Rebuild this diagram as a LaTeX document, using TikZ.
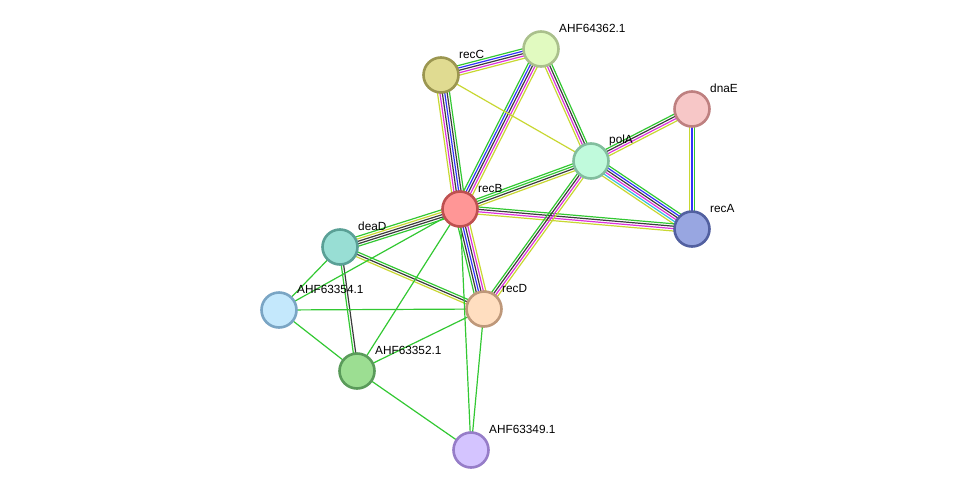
\documentclass[tikz,border=0pt]{standalone}
\usepackage{fontspec}
\setmainfont{Liberation Sans}
\usetikzlibrary{calc,backgrounds}
\definecolor{eg}{RGB}{50,200,50}
\definecolor{ey}{RGB}{200,215,50}
\definecolor{em}{RGB}{220,50,220}
\definecolor{ek}{RGB}{60,60,60}
\definecolor{eb}{RGB}{50,50,250}
\definecolor{ec}{RGB}{50,190,225}
\tikzset{
  prot/.style={circle, minimum size=35pt, inner sep=0pt, line width=2.6pt},
  lab/.style={anchor=west, font=\fontsize{11.8}{13}\selectfont, inner sep=0pt},
  eline/.style={line width=1.2pt}
}
\newcommand\medge[4]{%
  \foreach \cc [count=\i] in {#4} {%
    \pgfmathsetmacro\off{(\i-(#3+1)/2)*2.4}%
    \draw[eline, \cc] ($(#1.center)!\off pt!90:(#2.center)$) -- ($(#2.center)!\off pt!-90:(#1.center)$);
  }%
}
\begin{document}
\begin{tikzpicture}[x=1pt,y=-1pt]
\useasboundingbox (0,0) rectangle (975,496);
% nodes
\node[prot, fill={rgb,255:red,224;green,219;blue,145}, draw={rgb,255:red,155;green,150;blue,80}] (recC) at (441,75) {};
\node[prot, fill={rgb,255:red,225;green,250;blue,192}, draw={rgb,255:red,170;green,192;blue,140}] (A362) at (541,49) {};
\node[prot, fill={rgb,255:red,247;green,199;blue,199}, draw={rgb,255:red,190;green,128;blue,128}] (dnaE) at (692,109) {};
\node[prot, fill={rgb,255:red,192;green,250;blue,220}, draw={rgb,255:red,130;green,190;blue,158}] (polA) at (591,161) {};
\node[prot, fill={rgb,255:red,255;green,150;blue,150}, draw={rgb,255:red,190;green,80;blue,80}] (recB) at (460,209) {};
\node[prot, fill={rgb,255:red,152;green,166;blue,225}, draw={rgb,255:red,82;green,96;blue,160}] (recA) at (692,229) {};
\node[prot, fill={rgb,255:red,152;green,222;blue,212}, draw={rgb,255:red,90;green,160;blue,150}] (deaD) at (340,247) {};
\node[prot, fill={rgb,255:red,196;green,232;blue,252}, draw={rgb,255:red,122;green,165;blue,196}] (A354) at (279,310) {};
\node[prot, fill={rgb,255:red,255;green,222;blue,192}, draw={rgb,255:red,190;green,152;blue,122}] (recD) at (484,309) {};
\node[prot, fill={rgb,255:red,156;green,222;blue,146}, draw={rgb,255:red,90;green,155;blue,90}] (A352) at (357,371) {};
\node[prot, fill={rgb,255:red,212;green,196;blue,255}, draw={rgb,255:red,150;green,125;blue,200}] (A349) at (471,450) {};
% labels
\node[lab] (lrecC) at ($(recC)+(18,-21)$) {recC};
\node[lab] (lA362) at ($(A362)+(18,-21)$) {AHF64362.1};
\node[lab] (ldnaE) at ($(dnaE)+(18,-21)$) {dnaE};
\node[lab] (lpolA) at ($(polA)+(18,-21)$) {polA};
\node[lab] (lrecB) at ($(recB)+(18,-21)$) {recB};
\node[lab] (lrecA) at ($(recA)+(18,-21)$) {recA};
\node[lab] (ldeaD) at ($(deaD)+(18,-21)$) {deaD};
\node[lab] (lA354) at ($(A354)+(18,-21)$) {AHF63354.1};
\node[lab] (lrecD) at ($(recD)+(18,-21)$) {recD};
\node[lab] (lA352) at ($(A352)+(18,-21)$) {AHF63352.1};
\node[lab] (lA349) at ($(A349)+(18,-21)$) {AHF63349.1};
% edges
\begin{scope}[on background layer]
\medge{recC}{A362}{5}{ey,em,ek,eb,eg}
\medge{recC}{recB}{6}{ey,em,ek,eb,ek,eg}
\medge{recB}{recD}{6}{eg,ek,eb,ek,em,ey}
\medge{A362}{recB}{5}{eg,eb,ek,em,ey}
\medge{A362}{polA}{4}{ey,em,ek,eg}
\medge{recC}{polA}{1}{ey}
\medge{polA}{recB}{4}{eg,eg,ek,ey}
\medge{polA}{dnaE}{4}{ey,em,ek,eg}
\medge{dnaE}{recA}{3}{ey,eb,eg}
\medge{polA}{recA}{6}{ey,ec,em,ek,eb,eg}
\medge{recB}{recA}{4}{ey,em,ek,eg}
\medge{polA}{recD}{4}{eg,ek,em,ey}
\medge{recB}{deaD}{5}{eg,ey,ek,ek,eg}
\medge{deaD}{recD}{3}{ey,ek,eg}
\medge{deaD}{A352}{2}{eg,ek}
\medge{deaD}{A354}{1}{eg}
\medge{recB}{A354}{1}{eg}
\medge{recB}{A352}{1}{eg}
\medge{recB}{A349}{1}{eg}
\medge{recD}{A349}{1}{eg}
\medge{A354}{recD}{1}{eg}
\medge{A354}{A352}{1}{eg}
\medge{A352}{recD}{1}{eg}
\medge{A352}{A349}{1}{eg}
\end{scope}
\end{tikzpicture}
\end{document}
